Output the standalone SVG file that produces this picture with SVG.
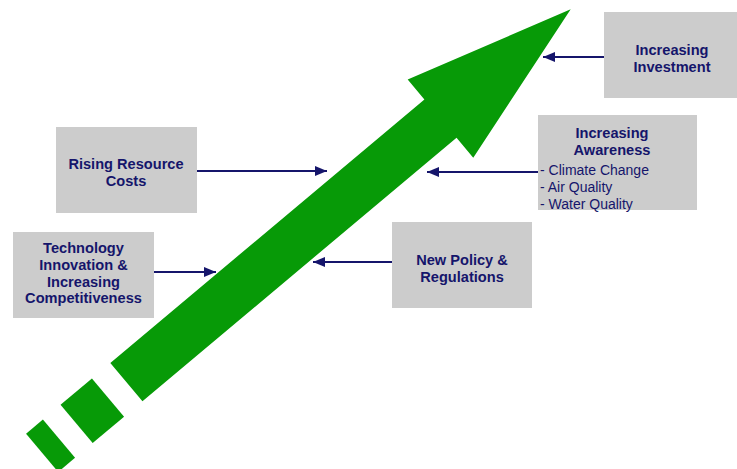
<svg xmlns="http://www.w3.org/2000/svg" width="737" height="469" viewBox="0 0 737 469">
<defs>
<style>
.box{fill:#cccccc}
.t{font-family:"Liberation Sans",Arial,sans-serif;font-size:14.6px;font-weight:bold;fill:#15156b;text-anchor:middle}
.l{font-family:"Liberation Sans",Arial,sans-serif;font-size:14px;fill:#15156b}
.c{stroke:#15156b;stroke-width:2;fill:none;marker-end:url(#ah)}
.g{fill:#079a07}
</style>
<marker id="ah" markerUnits="userSpaceOnUse" markerWidth="12" markerHeight="10" refX="12" refY="5" orient="auto">
<path d="M0,0 L12,5 L0,10 z" fill="#15156b"/>
</marker>
</defs>
<rect width="737" height="469" fill="#ffffff"/>
<g id="growth-arrow" transform="translate(570.7 9.3) rotate(-40)">
<polygon class="g" points="0,0 -170,51 -170,25 -580,25 -580,-25 -170,-25 -170,-51"/>
<rect class="g" x="-645" y="-25" width="41" height="50"/>
<rect class="g" x="-690" y="-25" width="22" height="50"/>
</g>
<g id="connectors">
<line class="c" x1="604" y1="57" x2="543" y2="57"/>
<line class="c" x1="197" y1="171" x2="327" y2="171"/>
<line class="c" x1="538" y1="172" x2="427" y2="172"/>
<line class="c" x1="154" y1="272" x2="216" y2="272"/>
<line class="c" x1="392" y1="262" x2="313" y2="262"/>
</g>
<g id="investment">
<rect class="box" x="604" y="12" width="133" height="86"/>
<text class="t" x="672" y="55">Increasing</text>
<text class="t" x="672" y="72">Investment</text>
</g>
<g id="rising-costs">
<rect class="box" x="56" y="127" width="141" height="86"/>
<text class="t" x="126" y="169">Rising Resource</text>
<text class="t" x="126" y="186">Costs</text>
</g>
<g id="awareness">
<rect class="box" x="538" y="115" width="159" height="95"/>
<text class="t" x="612" y="138">Increasing</text>
<text class="t" x="612" y="155">Awareness</text>
<text class="l" x="540" y="175">- Climate Change</text>
<text class="l" x="540" y="192">- Air Quality</text>
<text class="l" x="540" y="209">- Water Quality</text>
</g>
<g id="technology">
<rect class="box" x="13" y="232" width="141" height="86"/>
<text class="t" x="83.5" y="253">Technology</text>
<text class="t" x="83.5" y="270">Innovation &amp;</text>
<text class="t" x="83.5" y="287">Increasing</text>
<text class="t" x="83.5" y="303">Competitiveness</text>
</g>
<g id="policy">
<rect class="box" x="392" y="222" width="140" height="86"/>
<text class="t" x="462" y="265">New Policy &amp;</text>
<text class="t" x="462" y="282">Regulations</text>
</g>
</svg>
